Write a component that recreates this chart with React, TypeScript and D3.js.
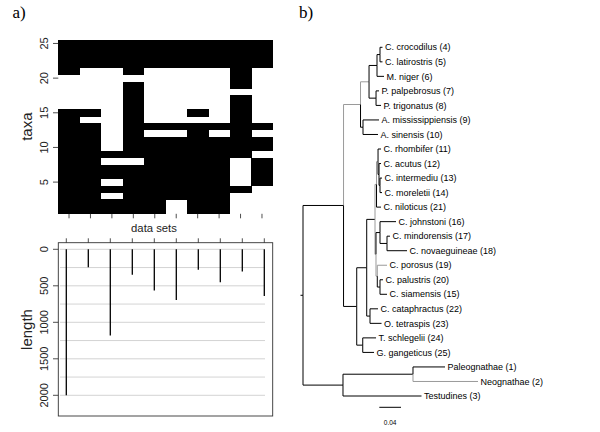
import React from 'react';
import * as d3 from 'd3';

// ---------- data ----------
const dataSetIds = ['1', '2', '3', '4', '5', '6', '7', '8', '9', '10'];
// presence per data set, taxa 1..25 (1 = sampled / black)
const presence = [
  '1111111111111110000011111',
  '1111111111111010000001111',
  '1101011010000000000001111',
  '1111111011111111111011111',
  '1111111111101000000001111',
  '0011111111101000000001111',
  '1111111111111010000001111',
  '1111111111101000000001111',
  '0001000011111111101111111',
  '0000111101101000000001111',
];
const taxaTicks = [5, 10, 15, 20, 25];
const seqLengths = [2000, 245, 1180, 350, 565, 695, 280, 450, 305, 640];
const lengthTicks = [0, 500, 1000, 1500, 2000];
const lengthGrid = [0, 250, 500, 750, 1000, 1250, 1500, 1750, 2000];

// tree: [parent, child, branch length]
const treeEdges: [string, string, number][] = [
  ['root', 'Crocodylia', 0.0747],
  ['Crocodylia', 'E', 0.0313],
  ['E', 'A', 0.0157],
  ['A', 'B', 0.0147],
  ['B', 'D', 0.0055],
  ['D', 'C. crocodilus (4)', 0.0046],
  ['D', 'C. latirostris (5)', 0.0046],
  ['B', 'M. niger (6)', 0.0129],
  ['A', 'C', 0.0129],
  ['C', 'P. palpebrosus (7)', 0.0055],
  ['C', 'P. trigonatus (8)', 0.0092],
  ['E', 'F', 0.0046],
  ['F', 'A. mississippiensis (9)', 0.0295],
  ['F', 'A. sinensis (10)', 0.0276],
  ['Crocodylia', 'G', 0.0243],
  ['G', 'H', 0.0184],
  ['H', 'I', 0.0153],
  ['I', 'I1', 0.0028],
  ['I1', 'I1a', 0.0028],
  ['I1a', 'C. rhombifer (11)', 0.0055],
  ['I1a', 'I1b', 0.0018],
  ['I1b', 'C. acutus (12)', 0.0037],
  ['I1b', 'I1c', 0.0018],
  ['I1c', 'C. intermediu (13)', 0.0037],
  ['I1c', 'C. moreletii (14)', 0.0037],
  ['I1', 'C. niloticus (21)', 0.0083],
  ['I', 'I2', 0.0018],
  ['I2', 'J', 0.0074],
  ['J', 'C. johnstoni (16)', 0.0295],
  ['J', 'M', 0.0129],
  ['M', 'C. mindorensis (17)', 0.0055],
  ['M', 'C. novaeguineae (18)', 0.0369],
  ['I2', 'P', 0.0024],
  ['P', 'C. porosus (19)', 0.0179],
  ['P', 'Q', 0.005],
  ['Q', 'C. palustris (20)', 0.0055],
  ['Q', 'C. siamensis (15)', 0.0129],
  ['H', 'K', 0.0061],
  ['K', 'C. cataphractus (22)', 0.0147],
  ['K', 'O. tetraspis (23)', 0.0212],
  ['G', 'L', 0.0111],
  ['L', 'T. schlegelii (24)', 0.0245],
  ['L', 'G. gangeticus (25)', 0.0208],
  ['root', 'Out', 0.0737],
  ['Out', 'Birds', 0.129],
  ['Birds', 'Paleognathae (1)', 0.059],
  ['Birds', 'Neognathae (2)', 0.1198],
  ['Out', 'Testudines (3)', 0.1447],
];
const grayEdges = ['E', 'A', 'I1', 'I2', 'I1a', 'P', 'C. porosus (19)', 'Neognathae (2)'];
const rootEdge = 0.0046;
const scaleBarValue = 0.04;

// ---------- layout helpers ----------
function layoutTree() {
  const children = new Map<string, { id: string; len: number }[]>();
  treeEdges.forEach(([p, c, l]) => {
    if (!children.has(p)) children.set(p, []);
    children.get(p)!.push({ id: c, len: l });
  });
  const depth = new Map<string, number>();
  const tips: string[] = [];
  const visit = (id: string, d: number) => {
    depth.set(id, d);
    const ch = children.get(id);
    if (!ch) tips.push(id);
    else ch.forEach((c) => visit(c.id, d + c.len));
  };
  visit('root', 0);
  const yIndex = new Map<string, number>();
  tips.forEach((t, i) => yIndex.set(t, i));
  const setY = (id: string): number => {
    const ch = children.get(id);
    if (!ch) return yIndex.get(id)!;
    const v = d3.mean(ch.map((c) => setY(c.id)))!;
    yIndex.set(id, v);
    return v;
  };
  setY('root');
  return { children, depth, tips, yIndex };
}

const font = '"Liberation Sans", Arial, Helvetica, sans-serif';
const serif = '"Liberation Serif", "DejaVu Serif", serif';

export default function App() {
  // ---- heatmap ----
  const hx = d3.scaleBand<number>().domain(d3.range(dataSetIds.length)).range([58.3, 272.7]);
  const taxaIds = d3.range(25, 0, -1);
  const hy = d3.scaleBand<number>().domain(taxaIds).range([40, 213.3]);

  // ---- length panel ----
  const bx = d3.scalePoint<number>().domain(d3.range(dataSetIds.length)).range([66.3, 264.3]);
  const by = d3.scaleLinear().domain([0, 2000]).range([249.3, 395.3]);

  // ---- tree ----
  const { depth, tips, yIndex } = layoutTree();
  const maxDepth = d3.max(tips, (t) => depth.get(t)!)!;
  const tx = d3.scaleLinear().domain([0, maxDepth]).range([303, 478]);
  const ty = d3.scaleLinear().domain([0, tips.length - 1]).range([47.3, 396]);

  const axisColor = '#222';

  return (
    <svg width={600} height={432} style={{ position: 'absolute', left: 0, top: 0, background: '#fff' }}>
      <rect x={0} y={0} width={600} height={432} fill="#fff" />
      {/* panel letters */}
      <text x={12.5} y={18} fontFamily={serif} fontSize={17}>a)</text>
      <text x={299} y={18} fontFamily={serif} fontSize={17}>b)</text>

      {/* heatmap */}
      <g shapeRendering="crispEdges">
        {presence.map((col, ci) =>
          col.split('').map((v, ti) =>
            v === '1' ? (
              <rect key={`${ci}-${ti}`} x={hx(ci)!} y={hy(ti + 1)!} width={hx.bandwidth() + 0.3} height={hy.bandwidth() + 0.3} fill="#000" />
            ) : null
          )
        )}
      </g>
      {/* heatmap y axis */}
      {taxaTicks.map((t) => {
        const y = hy(t)! + hy.bandwidth() / 2;
        return (
          <g key={t}>
            <line x1={53} x2={58.3} y1={y} y2={y} stroke={axisColor} strokeWidth={0.8} />
            <text transform={`translate(47.5,${y}) rotate(-90)`} textAnchor="middle" fontFamily={font} fontSize={11} fill={axisColor}>{t}</text>
          </g>
        );
      })}
      <text transform={`translate(31.5,126.7) rotate(-90)`} textAnchor="middle" fontFamily={font} fontSize={15} fill={axisColor}>taxa</text>
      {/* heatmap bottom ticks */}
      {dataSetIds.map((d, i) => {
        const x = hx(i)! + hx.bandwidth() / 2;
        return <line key={d} x1={x} x2={x} y1={213.8} y2={218.3} stroke={axisColor} strokeWidth={0.8} />;
      })}
      <text x={154} y={231.5} textAnchor="middle" fontFamily={font} fontSize={11.3} fill={axisColor}>data sets</text>

      {/* length panel */}
      {lengthGrid.map((g) => (
        <line key={g} x1={60} x2={265} y1={by(g)} y2={by(g)} stroke="#c8c8c8" strokeWidth={0.8} />
      ))}
      <rect x={58.3} y={242.7} width={214.4} height={173.3} fill="none" stroke="#333" strokeWidth={0.9} />
      {dataSetIds.map((d, i) => (
        <line key={d} x1={bx(i)!} x2={bx(i)!} y1={238.3} y2={242.7} stroke={axisColor} strokeWidth={0.8} />
      ))}
      {seqLengths.map((v, i) => (
        <line key={i} x1={bx(i)!} x2={bx(i)!} y1={by(0)} y2={by(v)} stroke="#000" strokeWidth={1.3} />
      ))}
      {lengthTicks.map((t) => (
        <g key={t}>
          <line x1={53} x2={58.3} y1={by(t)} y2={by(t)} stroke={axisColor} strokeWidth={0.8} />
          <text transform={`translate(47.5,${by(t)}) rotate(-90)`} textAnchor="middle" fontFamily={font} fontSize={11} fill={axisColor}>{t}</text>
        </g>
      ))}
      <text transform={`translate(31.5,329.5) rotate(-90)`} textAnchor="middle" fontFamily={font} fontSize={15} fill={axisColor}>length</text>

      {/* tree */}
      <g fill="none" strokeWidth={1}>
        <line x1={tx(-rootEdge)} x2={tx(0)} y1={ty(yIndex.get('root')!)} y2={ty(yIndex.get('root')!)} stroke="#000" />
        {treeEdges.map(([p, c]) => {
          const px = tx(depth.get(p)!);
          const py = ty(yIndex.get(p)!);
          const cx = tx(depth.get(c)!);
          const cy = ty(yIndex.get(c)!);
          const color = grayEdges.includes(c) ? '#9a9a9a' : '#000';
          return <path key={c} d={`M${px},${py}V${cy}H${cx}`} stroke={color} />;
        })}
      </g>
      {tips.map((t, i) => (
        <text key={t} x={tx(depth.get(t)!) + 2.5} y={ty(i)} dy="0.35em" fontFamily={font} fontSize={9} fill="#000">{t}</text>
      ))}
      {/* scale bar */}
      <line x1={379.3} x2={379.3 + (tx(scaleBarValue) - tx(0))} y1={407.3} y2={407.3} stroke="#000" strokeWidth={1} />
      <text x={379.3 + (tx(scaleBarValue) - tx(0)) / 2} y={425} textAnchor="middle" fontFamily={font} fontSize={6.5} fill="#000">{scaleBarValue}</text>
    </svg>
  );
}
